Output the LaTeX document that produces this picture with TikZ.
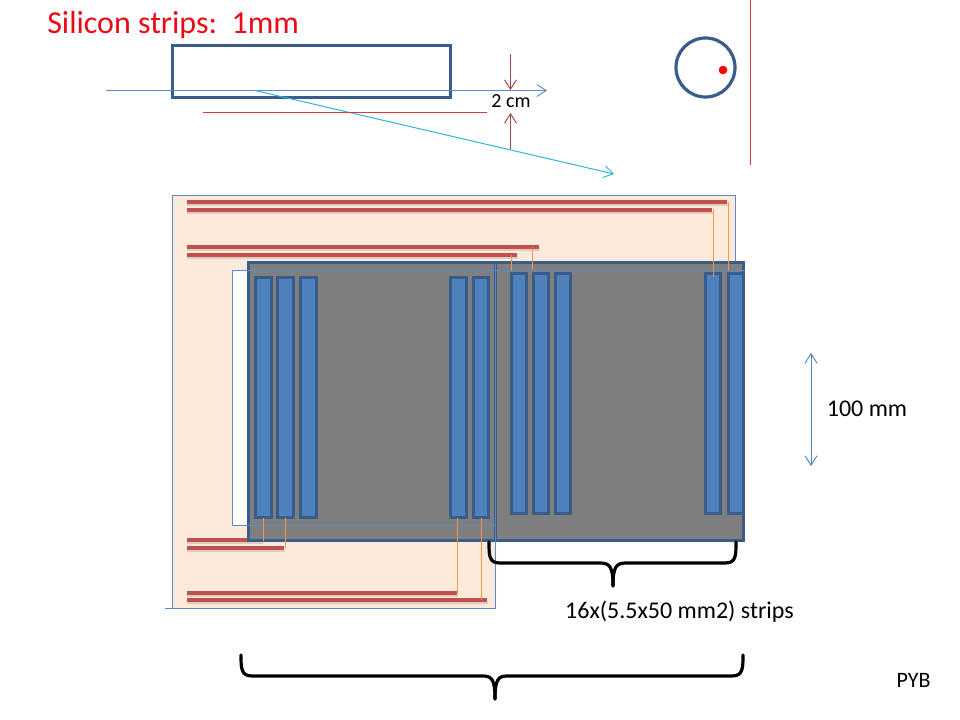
\documentclass[tikz,border=0pt]{standalone}
\usepackage{fontspec}
\setmainfont{Carlito}
\usetikzlibrary{arrows.meta}
\definecolor{navy}{HTML}{385D8A}
\definecolor{midblue}{HTML}{4F81BD}
\definecolor{thinblue}{HTML}{6088C6}
\definecolor{peach}{HTML}{FDEADA}
\definecolor{barred}{HTML}{C0504D}
\definecolor{dimred}{HTML}{A04644}
\definecolor{sky}{HTML}{2DB5DE}
\definecolor{wire}{HTML}{F79646}
\definecolor{panelgrey}{HTML}{7F7F7F}
\definecolor{redline}{HTML}{E0353A}
\tikzset{
  navyfill/.style={fill=navy},
  thickring/.style={draw=navy,line width=2.4pt},
  stripfill/.style={fill=midblue},
  panelfill/.style={fill=panelgrey},
  thinfill/.style={fill=thinblue},
  barfill/.style={fill=barred},
  barshadow/.style={fill=black,opacity=.12},
  wirefill/.style={fill=wire},
  openarrow/.style={-{Straight Barb[length=7pt,width=9pt,line width=0.7pt]}},
  brace/.style={draw=black,line width=2.4pt,line cap=round,line join=round},
  label/.style={text=black,font=\fontsize{18}{20}\selectfont,inner sep=0pt}
}
\newcommand{\framedbox}[5]{% x1,y1,x2,y2,inner style
  \fill[navyfill] (#1,#2) rectangle (#3,#4);
  \fill[#5] ({#1+3},{#2+3}) rectangle ({#3-3},{#4-3});
}
\begin{document}
\begin{tikzpicture}[x=0.75pt,y=-0.75pt]
\useasboundingbox (0,0) rectangle (960,720);
% top sketch
\node[anchor=west,text={rgb,255:red,235;green,10;blue,20},font=\fontsize{24}{28}\selectfont,inner sep=0pt] (title) at (47,25) {Silicon strips:\ \ 1mm};
\framedbox{171}{44}{452}{99}{fill=white}
\coordinate (beamA) at (106,90.5);
\coordinate (beamB) at (547,90.5);
\coordinate (kink) at (255,90.5);
\coordinate (scatterEnd) at (614,174);
\draw[draw=thinblue,line width=0.75pt,openarrow] (beamA) -- (beamB);
\draw[draw=sky,line width=0.75pt,openarrow] (kink) -- (scatterEnd);
\fill[redline] (203,112.5) rectangle (487,113.5);
\node[label,font=\fontsize{15}{17}\selectfont] (gap) at (511,101) {2 cm};
\draw[draw=dimred,line width=0.75pt,openarrow] (510.5,54) -- (510.5,90);
\draw[draw=dimred,line width=0.75pt,openarrow] (510.5,149) -- (510.5,113);
\draw[thickring] (705.5,67.5) circle (29.5);
\fill[red] (723,70) circle (4.3);
\fill[redline] (750,0) rectangle (751,165);
% peach backing
\fill[peach] (173,196) -- (735,196) -- (735,270) -- (496,270) -- (496,609) -- (173,609) -- cycle;
\fill[white] (233,270) rectangle (250,525);
\fill[thinfill] (172,195.5) rectangle (736,196.5);
\fill[thinfill] (172,195.5) rectangle (173,609);
\fill[thinfill] (735,195.5) rectangle (736,262);
% red bars
\foreach \yy/\xe in {202/727,210/712,247/539,255/517,540/262,548/284,593/457,600/487}{
  \fill[barshadow] (187,\yy+2) rectangle (\xe+1,\yy+4);
  \fill[barfill] (187,\yy-2.3) rectangle (\xe,\yy+2.3);
}
% panels
\framedbox{246.5}{261}{497}{542}{panelfill}
\framedbox{494}{261}{745}{542}{panelfill}
% strips
\foreach \xa in {254,276,299,449,471.5}{\framedbox{\xa}{276}{\xa+18.5}{519}{stripfill}}
\foreach \xa in {510,532,554,704,727}{\framedbox{\xa}{272}{\xa+18}{515}{stripfill}}
% thin outline over panels
\fill[thinfill] (232,270) rectangle (745,271);
\fill[thinfill] (232,270) rectangle (233,526);
\fill[thinfill] (232,525) rectangle (496,526);
\fill[thinfill] (165,608) rectangle (496,609);
\fill[thinfill] (495,264) rectangle (496,609);
% wire bonds
\foreach \xx/\ya/\yb in {728/202/270,713/210/277,532/247/270,511/255/270,262.5/518/541,285/518/548,457/518/593,480.5/518/600}{
  \fill[wirefill] (\xx,\ya) rectangle (\xx+1.1,\yb);
}
% 100 mm
\coordinate (dimA) at (811,353);
\coordinate (dimB) at (811,466);
\draw[draw=midblue,line width=0.75pt,{Straight Barb[length=7pt,width=9pt,line width=0.7pt]}-{Straight Barb[length=7pt,width=9pt,line width=0.7pt]}] (dimA) -- (dimB);
\node[label] (hundred) at (867,409) {100 mm};
% braces
\draw[brace] (489,542) .. controls (489,556) and (489,563) .. (500,563) -- (600,563) .. controls (610,563) and (613,567) .. (613,586);
\draw[brace] (736,542) .. controls (736,556) and (736,563) .. (725,563) -- (626,563) .. controls (616,563) and (613,567) .. (613,586);
\node[label] (stripsnote) at (679.5,612) {16x(5.5x50 mm2) strips};
\draw[brace] (241,655) .. controls (241,668) and (241,676) .. (252,676) -- (483,676) .. controls (492,676) and (495,680) .. (495,699);
\draw[brace] (743,655) .. controls (743,668) and (743,676) .. (732,676) -- (507,676) .. controls (498,676) and (495,680) .. (495,699);
\node[label,font=\fontsize{16.5}{19}\selectfont] (pyb) at (913.5,680) {PYB};
\end{tikzpicture}
\end{document}
